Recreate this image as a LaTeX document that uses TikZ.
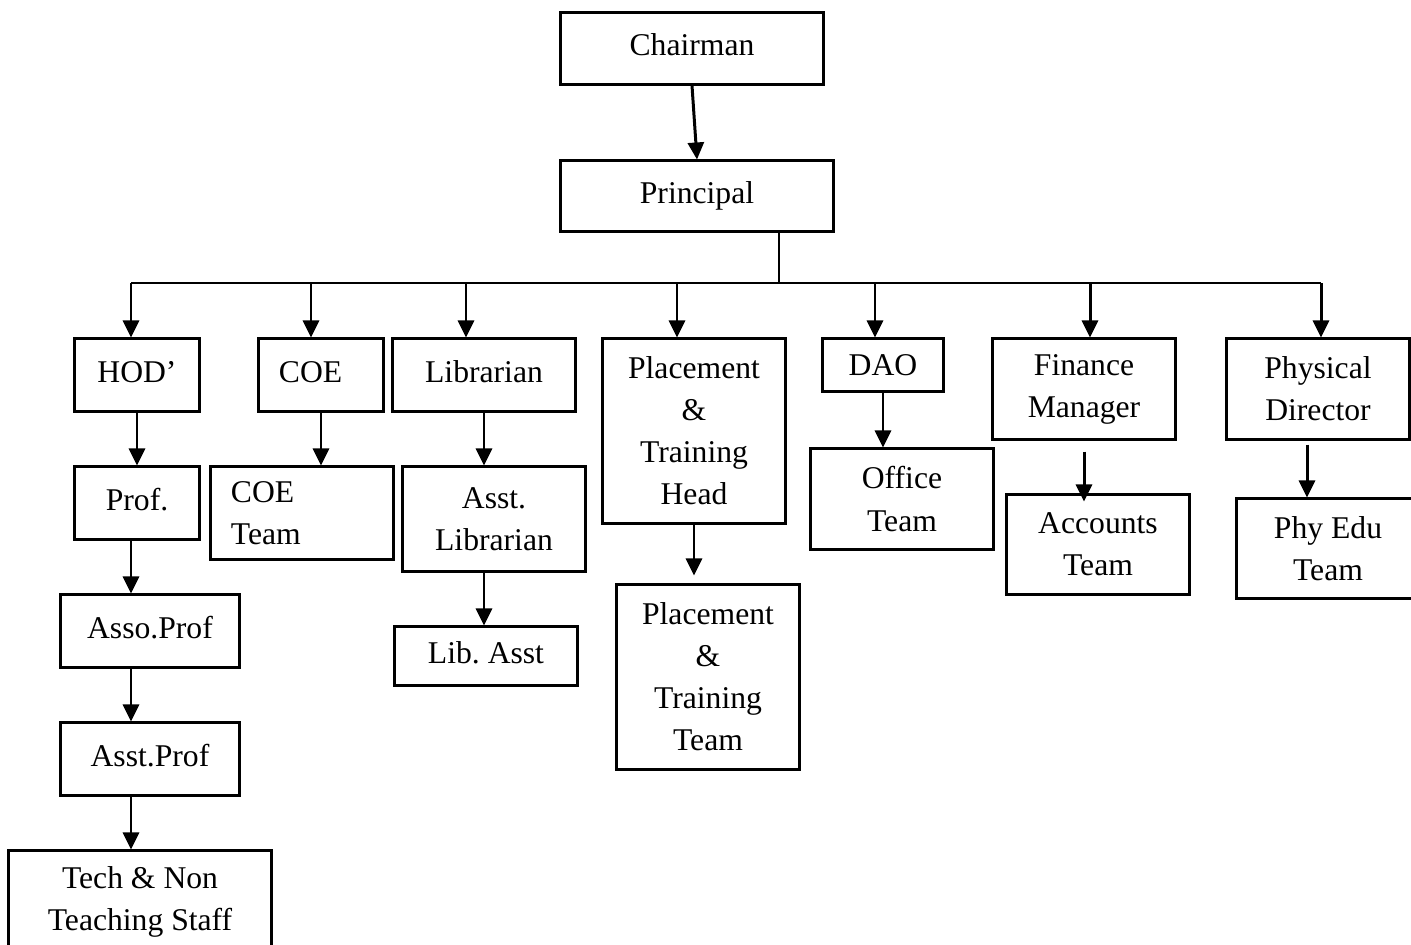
\documentclass[tikz,border=0pt]{standalone}
\usepackage{fontspec}
\setmainfont{Liberation Serif}
\usetikzlibrary{arrows.meta}

\begin{document}
\begin{tikzpicture}[x=0.01cm, y=-0.01cm, line width=0.85pt,
		box/.style={draw, rectangle, inner sep=0pt, align=center, font=\fontsize{9}{11.95}\selectfont},
		oneline/.style={text height=0.7em, text depth=0.3em},
		padded/.style={align=left, inner xsep=0.2cm, text width=#1},
		arr/.style={-{Triangle[length=0.17cm, width=0.16cm]}}]

		\path[use as bounding box, clip] (0,0) rectangle (1411,945);

		% Top
		\node[box, oneline, minimum width=2.62cm, minimum height=0.71cm] (chair) at (692,48.5) {Chairman};
		\node[box, oneline, minimum width=2.72cm, minimum height=0.70cm] (prin) at (697,196) {Principal};
		\draw[arr] (chair.south) -- (prin.north);

		% Heads
		\node[box, oneline, minimum width=1.24cm, minimum height=0.72cm] (hod) at (137,375) {HOD’};
		\node[box, oneline, padded=0.84cm, minimum width=1.24cm, minimum height=0.72cm] (coe) at (321,375) {COE};
		\node[box, oneline, minimum width=1.82cm, minimum height=0.72cm] (lib) at (484,375) {Librarian};
		\node[box, minimum width=1.82cm, minimum height=1.84cm] (pth) at (694,431) {Placement\\ \&\\ Training\\ Head};
		\node[box, minimum width=1.20cm, minimum height=0.52cm] (dao) at (883,365) {DAO};
		\node[box, minimum width=1.82cm, minimum height=1.00cm] (fin) at (1084,389) {Finance\\ Manager};
		\node[box, minimum width=1.82cm, minimum height=1.00cm] (phy) at (1318,389) {Physical\\ Director};

		% Bus
		\coordinate (drop) at (779,283);
		\draw (prin.south -| drop) -- (drop);
		\foreach \n/\x in {hod/131, coe/311, lib/466, pth/677, dao/875, fin/1090, phy/1321}
			\coordinate (t\n) at (\x,283);
		\draw (thod) -- (tphy);
		\foreach \n in {hod, coe, lib, pth, dao, fin, phy}
			\draw[arr] (t\n) -- (t\n |- \n.north);

		% Teams
		\node[box, oneline, minimum width=1.24cm, minimum height=0.72cm] (prof) at (137,503) {Prof.};
		\node[box, padded=1.42cm, minimum width=1.82cm, minimum height=0.92cm] (coet) at (302,513) {COE\\ Team};
		\node[box, minimum width=1.82cm, minimum height=1.04cm] (asl) at (494,519) {Asst.\\ Librarian};
		\node[box, minimum width=1.82cm, minimum height=1.84cm] (ptt) at (708,677) {Placement\\ \&\\ Training\\ Team};
		\node[box, minimum width=1.82cm, minimum height=1.00cm] (off) at (902,499) {Office\\ Team};
		\node[box, minimum width=1.82cm, minimum height=0.99cm] (acc) at (1098,544.5) {Accounts\\ Team};
		\node[box, minimum width=1.82cm, minimum height=0.99cm] (phyt) at (1328,548.5) {Phy Edu\\ Team};

		% Lower ranks
		\node[box, oneline, minimum width=1.78cm, minimum height=0.72cm] (asso) at (150,631) {Asso.Prof};
		\node[box, oneline, minimum width=1.78cm, minimum height=0.72cm] (asst) at (150,759) {Asst.Prof};
		\node[box, minimum width=2.62cm, minimum height=1.02cm] (tech) at (140,902) {Tech \& Non\\ Teaching Staff};
		\node[box, oneline, minimum width=1.82cm, minimum height=0.58cm] (libas) at (486,656) {Lib.\ Asst};

		% Chains
		\coordinate (col) at (131,0);
		\coordinate (phyx) at (1307,0);
		\draw[arr] (hod.south) -- (prof.north);
		\draw[arr] (prof.south -| col) -- (asso.north -| col);
		\draw[arr] (asso.south -| col) -- (asst.north -| col);
		\draw[arr] (asst.south -| col) -- (tech.north -| col);
		\draw[arr] (coe.south) -- (coe.south |- coet.north);
		\draw[arr] (lib.south) -- (lib.south |- asl.north);
		\draw[arr] (asl.south -| lib.south) -- (libas.north -| lib.south);
		\draw[arr, shorten >=0.08cm] (pth.south) -- (pth.south |- ptt.north);
		\draw[arr] (dao.south) -- (dao.south |- off.north);
		\draw[arr, shorten <=0.11cm, shorten >=-0.08cm] (fin.south) -- (fin.south |- acc.north);
		\draw[arr, shorten <=0.04cm] (phy.south -| phyx) -- (phyt.north -| phyx);

	\end{tikzpicture}
\end{document}
